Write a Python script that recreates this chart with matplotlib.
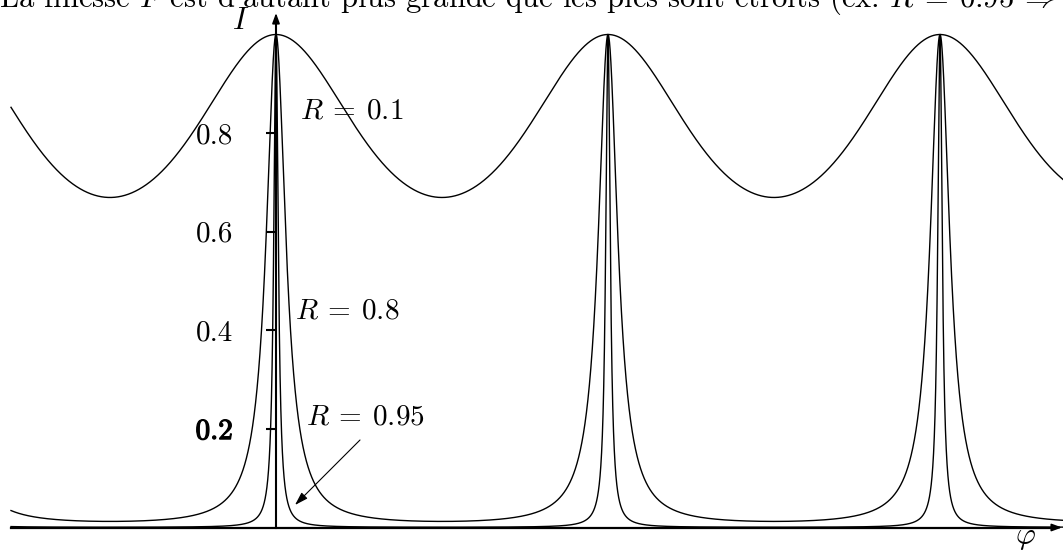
import numpy as np
import matplotlib
matplotlib.use("Agg")
import matplotlib.pyplot as plt
import matplotlib.patheffects as pe

# ---- data ----
R_values = [0.1, 0.8, 0.95]
R_labels = [r"$R\:=\:0.1$", r"$R\:=\:0.8$", r"$R\:=\:0.95$"]
yticks = [0.2, 0.4, 0.6, 0.8]
ytick_labels = ["0.2", "0.4", "0.6", "0.8"]
title_text = (r"La finesse $F$ est d'autant plus grande que les pics sont "
              r"$\mathrm{\acute{e}}$troits (ex: $R\:=\:0.95\:\Rightarrow\:F\:=\:61$)")

plt.rcParams['mathtext.fontset'] = 'cm'
plt.rcParams['font.family'] = ['cmr10', 'DejaVu Serif']
plt.rcParams['axes.unicode_minus'] = False

W, H = 1063, 550
fig = plt.figure(figsize=(W / 100, H / 100), dpi=100)
ax = fig.add_axes([0, 0, 1, 1])

# pixel geometry of the reference
x0_px, px_per_rad = 276.0, 332.0 / (2 * np.pi)
y0_px, px_per_unit = 527.5, 493.0

def px_to_phi(px):
    return (px - x0_px) / px_per_rad

def py_to_I(py):
    return (y0_px - py) / px_per_unit

ax.set_xlim(px_to_phi(0), px_to_phi(W))
ax.set_ylim(py_to_I(H), py_to_I(0))

phi_start, phi_end = px_to_phi(11), px_to_phi(W)
phi = np.linspace(phi_start, phi_end, 40001)
phi = np.sort(np.concatenate([phi, [0.0, 2 * np.pi, 4 * np.pi]]))

for R in R_values:
    F = 4 * R / (1 - R) ** 2
    I = 1.0 / (1.0 + F * np.sin(phi / 2) ** 2)
    ax.plot(phi, I, color='black', lw=1.0, solid_joinstyle='round')

# axes
for s in ['top', 'right']:
    ax.spines[s].set_visible(False)
ax.spines['left'].set_position(('data', 0))
ax.spines['bottom'].set_position(('data', 0))
ax.spines['left'].set_linewidth(1.5)
ax.spines['bottom'].set_linewidth(1.6)
ax.spines['left'].set_bounds(0, py_to_I(22))
ax.spines['bottom'].set_bounds(phi_start, px_to_phi(W - 8))

ax.annotate('', xy=(px_to_phi(W - 1), 0), xytext=(px_to_phi(W - 12), 0),
            arrowprops=dict(arrowstyle='-|>,head_length=0.6,head_width=0.22',
                            color='black', lw=1.2, shrinkA=0, shrinkB=0))
ax.annotate('', xy=(0, py_to_I(13)), xytext=(0, py_to_I(26)),
            arrowprops=dict(arrowstyle='-|>,head_length=0.6,head_width=0.22',
                            color='black', lw=1.2, shrinkA=0, shrinkB=0))

ax.set_xticks([])
ax.set_yticks(yticks)
ax.set_yticklabels(ytick_labels)
ax.tick_params(axis='y', direction='out', length=7, width=1.5, pad=24,
               labelsize=21, colors='black')
ax.get_yticklabels()[0].set_path_effects(
    [pe.withStroke(linewidth=0.9, foreground='black')])

def fx(px):
    return px / W

def fy(py):
    return 1 - py / H

ax.text(fx(241), fy(21), '$I$', transform=ax.transAxes, fontsize=22,
        ha='center', va='center')
ax.text(fx(1025), fy(538), r'$\varphi$', transform=ax.transAxes, fontsize=22,
        ha='center', va='center')

label_pos = [(352, 111), (347, 311), (365, 417)]
for (lx, ly), lab in zip(label_pos, R_labels):
    ax.text(fx(lx), fy(ly), lab, transform=ax.transAxes, fontsize=21,
            ha='center', va='center')

ax.annotate('', xy=(fx(295), fy(505)), xytext=(fx(360), fy(440)),
            xycoords='axes fraction', textcoords='axes fraction',
            arrowprops=dict(arrowstyle='-|>,head_length=0.8,head_width=0.25',
                            color='black', lw=0.8, shrinkA=0, shrinkB=0))

ax.text(fx(-1), fy(7), title_text, transform=ax.transAxes, fontsize=22,
        ha='left', va='baseline', clip_on=False)

fig.savefig('out.png', dpi=100)
